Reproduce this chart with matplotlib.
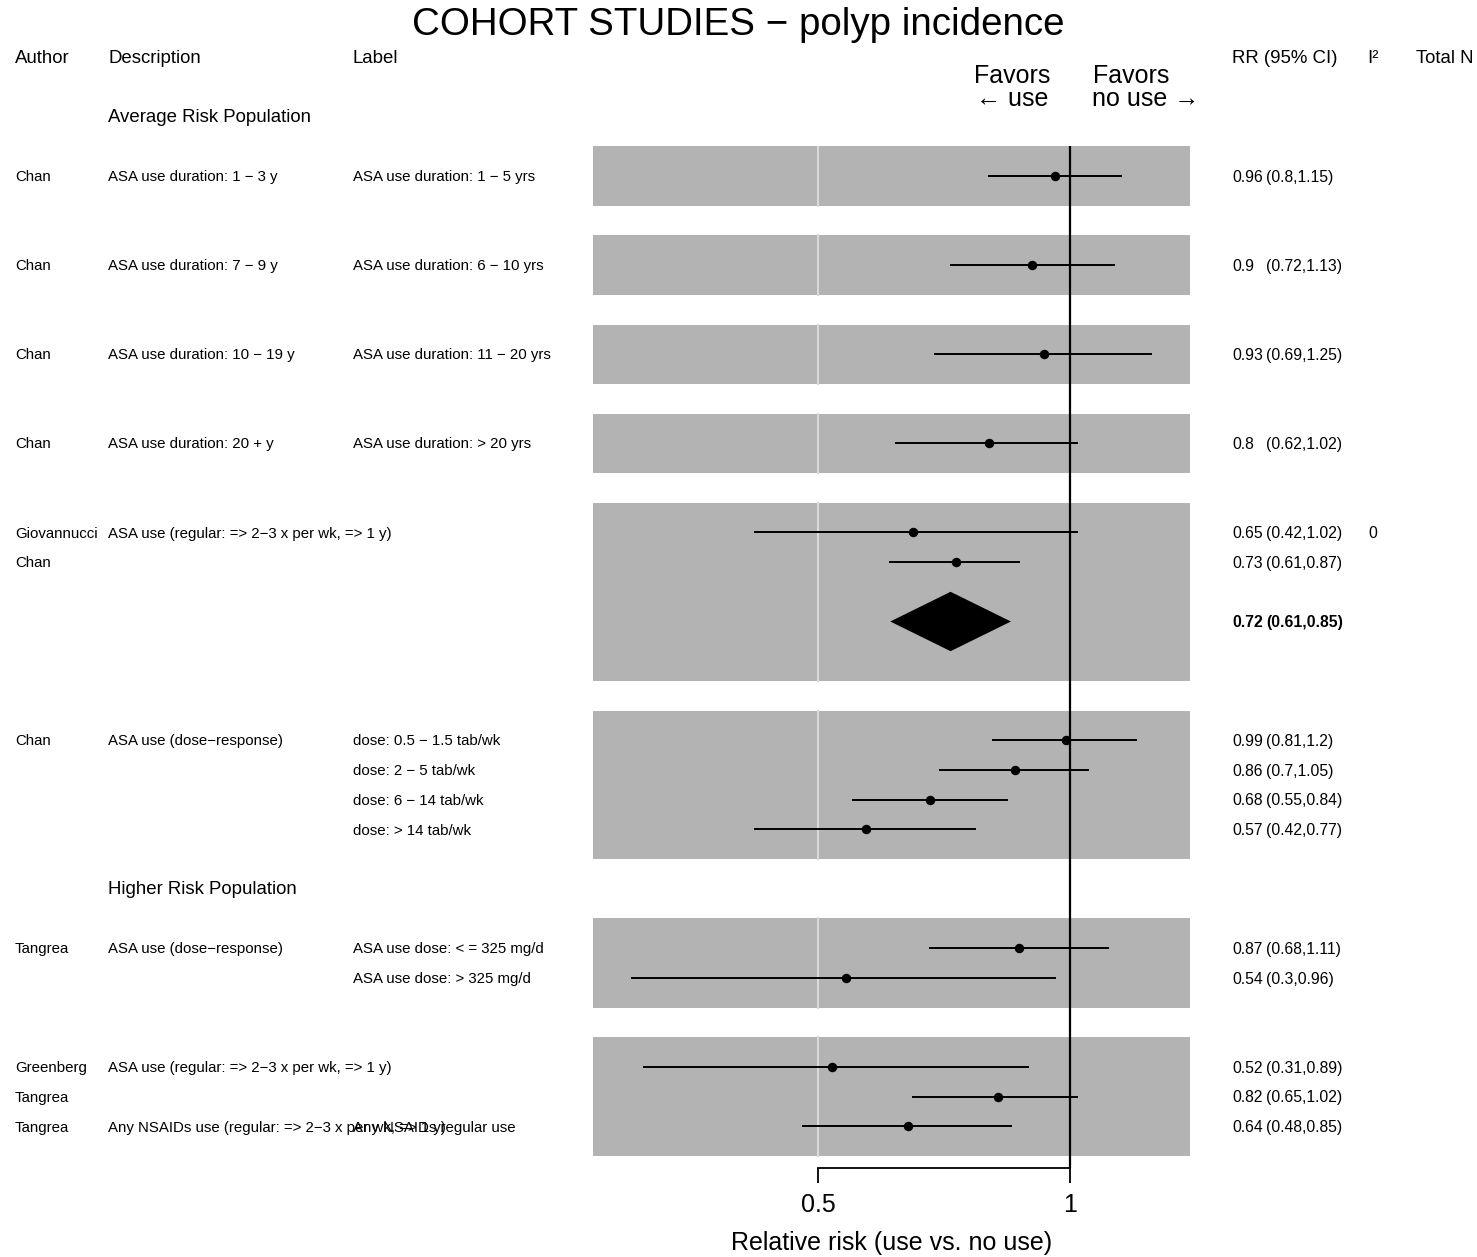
import matplotlib
matplotlib.use("Agg")
import matplotlib.pyplot as plt
import numpy as np

plt.rcParams['font.family'] = ['Liberation Sans', 'DejaVu Sans']

# ---------------- data ----------------
authors = ["Chan", "Chan", "Chan", "Chan", "Giovannucci", "Chan", "",
           "Chan", "", "", "", "Tangrea", "", "Greenberg", "Tangrea", "Tangrea"]
descriptions = ["ASA use duration: 1 \u2212 3 y", "ASA use duration: 7 \u2212 9 y",
                "ASA use duration: 10 \u2212 19 y", "ASA use duration: 20 + y",
                "ASA use (regular: => 2\u22123 x per wk, => 1 y)", "", "",
                "ASA use (dose\u2212response)", "", "", "",
                "ASA use (dose\u2212response)", "",
                "ASA use (regular: => 2\u22123 x per wk, => 1 y)", "",
                "Any NSAIDs use (regular: => 2\u22123 x per wk, => 1 y)"]
labels = ["ASA use duration: 1 \u2212 5 yrs", "ASA use duration: 6 \u2212 10 yrs",
          "ASA use duration: 11 \u2212 20 yrs", "ASA use duration: > 20 yrs",
          "", "", "",
          "dose: 0.5 \u2212 1.5 tab/wk", "dose: 2 \u2212 5 tab/wk",
          "dose: 6 \u2212 14 tab/wk", "dose: > 14 tab/wk",
          "ASA use dose: < = 325 mg/d", "ASA use dose: > 325 mg/d",
          "", "", "Any NSAIDs regular use"]
rr = [0.96, 0.9, 0.93, 0.8, 0.65, 0.73, 0.72, 0.99, 0.86, 0.68, 0.57, 0.87, 0.54, 0.52, 0.82, 0.64]
lo = [0.8, 0.72, 0.69, 0.62, 0.42, 0.61, 0.61, 0.81, 0.7, 0.55, 0.42, 0.68, 0.3, 0.31, 0.65, 0.48]
hi = [1.15, 1.13, 1.25, 1.02, 1.02, 0.87, 0.85, 1.2, 1.05, 0.84, 0.77, 1.11, 0.96, 0.89, 1.02, 0.85]
is_summary = [False]*6 + [True] + [False]*9
i2 = ["", "", "", "", "0", "", "", "", "", "", "", "", "", "", "", ""]
group_headers = ["Average Risk Population", "Higher Risk Population"]
col_headers = ["Author", "Description", "Label", "RR (95% CI)", "I\u00b2", "Total N"]
xticks = [0.5, 1]
xticklabels = ["0.5", "1"]
title = "COHORT STUDIES \u2212 polyp incidence"
xlabel = "Relative risk (use vs. no use)"

# ---------------- layout ----------------
W, H = 1477, 1257
LINE0, LINEPX = 176.0, 29.7
row_lines = [0, 3, 6, 9, 12, 13, 15, 19, 20, 21, 22, 26, 27, 30, 31, 32]
group_lines = [-2, 24]
header_line = -3.95
panels = [(-1, 1), (2, 4), (5, 7), (8, 10), (11, 17), (18, 23), (25, 28), (29, 33)]
col_x = [15, 108, 353, 1232, 1367, 1416]
ci_x = 1266
text_dy = 0.04

def line(px):
    return (px - LINE0) / LINEPX

fig = plt.figure(figsize=(W/100, H/100), dpi=100)

# text axes covering the whole figure (x in pixels, y in line units)
tax = fig.add_axes([0, 0, 1, 1])
tax.set_xlim(0, W)
tax.set_ylim(line(H), line(0))
tax.axis('off')

# forest axes
ax_l, ax_r, ax_t, ax_b = 593, 1190, 146, 1168
ax = fig.add_axes([ax_l/W, 1 - ax_b/H, (ax_r-ax_l)/W, (ax_b-ax_t)/H])
ax.set_xscale('log')
x_lo = 0.5 * 2 ** ((ax_l - 818) / 252.0)
x_hi = 2 ** ((ax_r - 1070) / 252.0)
ax.set_xlim(x_lo, x_hi)
ax.set_ylim(line(ax_b), line(ax_t))
ax.patch.set_alpha(0)
for s in ['top', 'left', 'right']:
    ax.spines[s].set_visible(False)
ax.spines['bottom'].set_bounds(0.5, 1)
ax.spines['bottom'].set_linewidth(1.3)
ax.set_yticks([])
ax.set_xticks(xticks)
ax.set_xticklabels(xticklabels, fontsize=18)
ax.xaxis.set_minor_locator(matplotlib.ticker.NullLocator())
ax.tick_params(axis='x', length=11, width=1.3, pad=7, direction='out')
ax.set_xlabel(xlabel, fontsize=18, labelpad=10)

for (a, b) in panels:
    ax.axhspan(a, b, color='#b3b3b3', lw=0, zorder=0)
    ax.plot([0.5, 0.5], [a, b], color='#d9d9d9', lw=1.5, zorder=1)

ax.axvline(1, color='black', lw=1.6, zorder=3)

for k in range(len(rr)):
    y = row_lines[k]
    if is_summary[k]:
        ax.fill([lo[k], rr[k], hi[k], rr[k]], [y, y - 1, y, y + 1],
                color='black', lw=0, zorder=4)
    else:
        ax.plot([lo[k], hi[k]], [y, y], color='black', lw=1.4, zorder=4)
        ax.plot(rr[k], y, 'o', color='black', ms=5.8, zorder=5)

# text
fs = 10.8
rfs = 11.3
hfs = 13.4
for x, h in zip(col_x, col_headers):
    tax.text(x, header_line, h, fontsize=hfs, va='center', ha='left')
for g, yl in zip(group_headers, group_lines):
    tax.text(col_x[1], yl + text_dy, g, fontsize=hfs, va='center', ha='left')

for k in range(len(rr)):
    y = row_lines[k] + text_dy
    if authors[k]:
        tax.text(col_x[0], y, authors[k], fontsize=fs, va='center')
    if descriptions[k]:
        tax.text(col_x[1], y, descriptions[k], fontsize=fs, va='center')
    if labels[k]:
        tax.text(col_x[2], y, labels[k], fontsize=fs, va='center')
    w = 'bold' if is_summary[k] else 'normal'
    tax.text(col_x[3], y, f"{rr[k]}", fontsize=rfs, va='center', fontweight=w)
    tax.text(ci_x, y, f"({lo[k]},{hi[k]})", fontsize=rfs, va='center', fontweight=w)
    if i2[k]:
        tax.text(col_x[4] + 1, y, i2[k], fontsize=rfs, va='center')

# favors text
tax.text(1012, line(76), "Favors", fontsize=18, ha='center', va='center')
tax.text(1012, line(99), "\u2190 use", fontsize=18, ha='center', va='center')
tax.text(1131, line(76), "Favors", fontsize=18, ha='center', va='center')
tax.text(1146, line(99), "no use \u2192", fontsize=18, ha='center', va='center')

fig.text(0.5, 1 - 25/H, title, fontsize=27.7, ha='center', va='center')

fig.savefig("out.png", dpi=100)
